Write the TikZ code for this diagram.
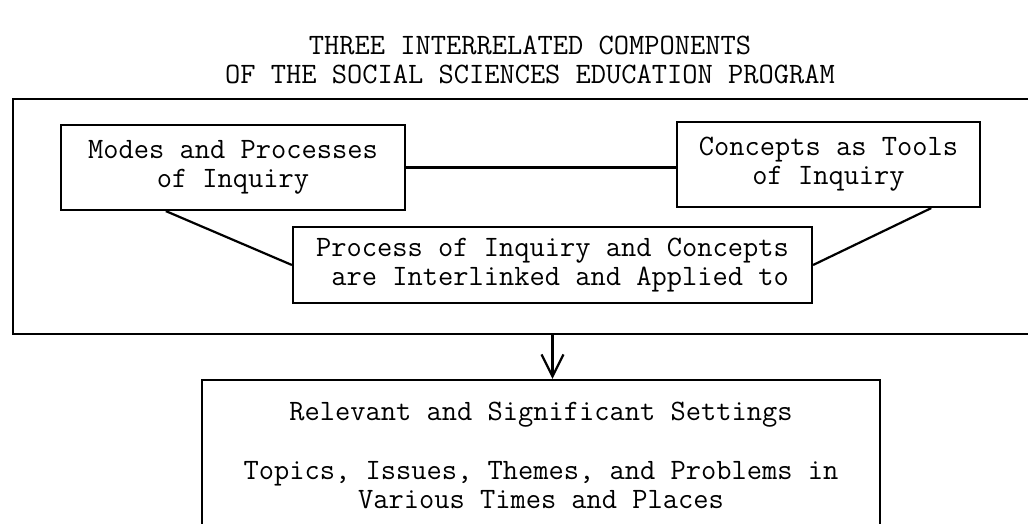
\documentclass[tikz,border=0pt]{standalone}
\usepackage{fontspec}
\usetikzlibrary{arrows.meta}

\begin{document}
\begin{tikzpicture}[x=0.5pt, y=-0.5pt, line width=1.1pt,
	every node/.style={font=\ttfamily\fontsize{14.8}{14.5}\selectfont},
	box/.style={draw, inner sep=0pt, align=center}]
	%\draw[help lines] (0,0) grid[step=100] (1028,524);
	\useasboundingbox (0,0) rectangle (1028,524);
	\node[align=center] (title) at (530,60) {THREE INTERRELATED COMPONENTS\\OF THE SOCIAL SCIENCES EDUCATION PROGRAM};
	\node[draw, anchor=north west, minimum width=530pt, minimum height=117.5pt] (frame) at (12,98) {};
	\node[box, minimum width=172pt, minimum height=42.5pt] (modes) at (233,167.5) {Modes and Processes\\of Inquiry};
	\node[box, minimum width=151.5pt, minimum height=42.5pt] (tools) at (828.5,164.5) {Concepts as Tools\\of Inquiry};
	\node[box, align=left, minimum width=259.5pt, minimum height=38pt] (link) at (552.5,265) {Process of Inquiry and Concepts\\\phantom{a}are Interlinked and Applied to};
	\node[box, minimum width=339pt, minimum height=75pt] (settings) at (541,455) {Relevant and Significant Settings\\[15pt]Topics, Issues, Themes, and Problems in\\Various Times and Places};
	\draw (modes.east) -- (modes.east -| tools.west);
	\draw (modes.213) -- (link.west);
	\draw (tools.337) -- (link.east);
	\draw[-{Straight Barb[length=11pt,width=11pt]}] (link.south |- frame.south) -- (link.south |- settings.north);
\end{tikzpicture}
\end{document}
